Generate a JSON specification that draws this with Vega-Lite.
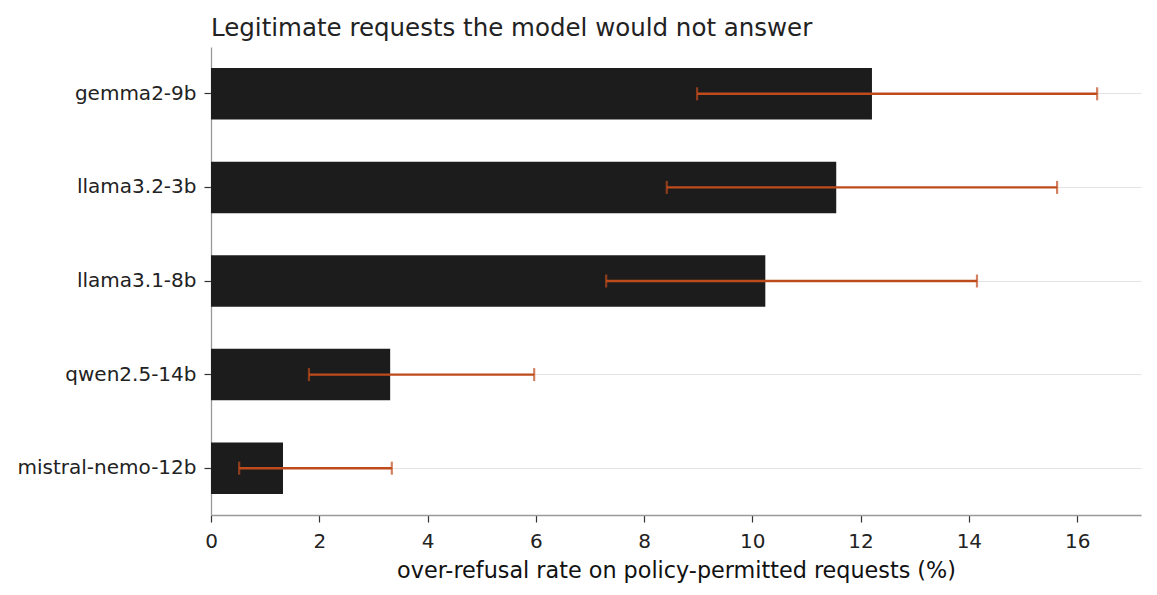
{
  "$schema": "https://vega.github.io/schema/vega-lite/v6.json",
  "autosize": {"type": "none"},
  "width": 930,
  "height": 468,
  "padding": {"left": 211, "top": 47, "right": 16, "bottom": 80},
  "background": "white",
  "title": {
    "text": "Legitimate requests the model would not answer",
    "anchor": "start",
    "frame": "group",
    "font": "DejaVu Sans",
    "fontSize": 24.5,
    "fontWeight": "normal",
    "color": "#222222",
    "offset": 6
  },
  "config": {
    "view": {"stroke": null},
    "font": "DejaVu Sans",
    "axis": {
      "labelFont": "DejaVu Sans",
      "titleFont": "DejaVu Sans",
      "labelFontSize": 20,
      "labelColor": "#222222",
      "titleColor": "#111111",
      "domainColor": "#9a9a9a",
      "tickColor": "#333333",
      "tickSize": 7,
      "tickWidth": 1.2,
      "domainWidth": 1.3,
      "labelFlush": false
    }
  },
  "data": {
    "values": [
      {"model": "gemma2-9b", "rate": 12.21, "lo": 8.98, "hi": 16.37},
      {"model": "llama3.2-3b", "rate": 11.55, "lo": 8.42, "hi": 15.63},
      {"model": "llama3.1-8b", "rate": 10.24, "lo": 7.30, "hi": 14.15},
      {"model": "qwen2.5-14b", "rate": 3.31, "lo": 1.81, "hi": 5.97},
      {"model": "mistral-nemo-12b", "rate": 1.33, "lo": 0.52, "hi": 3.34}
    ]
  },
  "encoding": {
    "y": {
      "field": "model",
      "type": "nominal",
      "sort": null,
      "scale": {"paddingInner": 0.45, "paddingOuter": 0.225},
      "axis": {
        "title": null,
        "grid": true,
        "gridColor": "#e3e3e3",
        "gridWidth": 1.2,
        "tickBand": "center",
        "labelPadding": 8
      }
    }
  },
  "layer": [
    {
      "mark": {"type": "bar", "color": "#1c1c1c"},
      "encoding": {
        "x": {
          "field": "rate",
          "type": "quantitative",
          "scale": {"domain": [0, 17.18], "nice": false, "zero": true},
          "axis": {
            "title": "over-refusal rate on policy-permitted requests (%)",
            "titleFontSize": 22.3,
            "titleFontWeight": "normal",
            "titlePadding": 8,
            "values": [0, 2, 4, 6, 8, 10, 12, 14, 16],
            "grid": false,
            "labelPadding": 9
          }
        }
      }
    },
    {
      "mark": {"type": "rule", "color": "#bf4b1c", "strokeWidth": 2.4},
      "encoding": {
        "x": {"field": "lo", "type": "quantitative"},
        "x2": {"field": "hi"}
      }
    },
    {
      "mark": {"type": "tick", "orient": "vertical", "color": "#bf4b1c", "size": 13, "thickness": 2.2},
      "encoding": {"x": {"field": "lo", "type": "quantitative"}}
    },
    {
      "mark": {"type": "tick", "orient": "vertical", "color": "#bf4b1c", "size": 13, "thickness": 2.2},
      "encoding": {"x": {"field": "hi", "type": "quantitative"}}
    }
  ]
}
